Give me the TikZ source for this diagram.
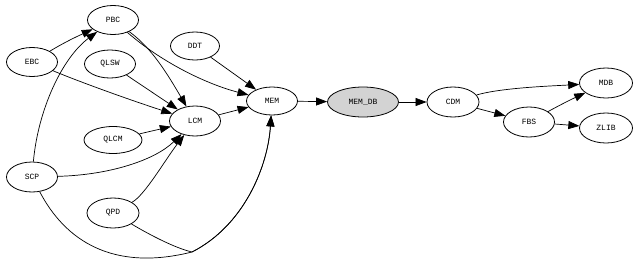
\documentclass[tikz,border=0pt]{standalone}
\usepackage{fontspec}
\setmonofont{Liberation Mono}
\usetikzlibrary{arrows.meta,shapes.geometric}
\definecolor{ink}{HTML}{000000}
\definecolor{dbfill}{HTML}{D3D3D3}

\begin{document}
\begin{tikzpicture}[
  x=1pt, y=-1pt, font=\ttfamily\fontsize{8}{9}\selectfont,
  mod/.style={ellipse, draw=ink, line width=0.8pt, fill=white, inner sep=0pt,
    minimum width=51pt, minimum height=29pt, text=ink},
  edge/.style={draw=ink, line width=0.7pt, -{Triangle[length=11pt,width=8pt]}}
]
\useasboundingbox (0,0) rectangle (637,276);

% modules
\node[mod] (PBC) at (113,20) {PBC};
\node[mod] (EBC) at (32,62) {EBC};
\node[mod, minimum width=49pt, minimum height=28pt] (DDT) at (195,46) {DDT};
\node[mod, minimum height=28pt] (QLSW) at (110,64) {QLSW};
\node[mod, minimum height=28pt] (MEM) at (272,101) {MEM};
\node[mod, minimum height=30pt] (LCM) at (195,121) {LCM};
\node[mod, minimum width=58pt, minimum height=27pt] (QLCM) at (113,140) {QLCM};
\node[mod, minimum height=30pt] (SCP) at (32,177) {SCP};
\node[mod, minimum width=52pt, minimum height=30pt] (QPD) at (113,213) {QPD};
\node[mod, fill=dbfill, minimum width=71pt, minimum height=30pt] (MEMDB) at (363,102) {MEM\_DB};
\node[mod, minimum width=52pt, minimum height=30pt] (CDM) at (453,102) {CDM};
\node[mod, minimum height=30pt] (FBS) at (529,122) {FBS};
\node[mod, minimum width=53pt, minimum height=30pt] (MDB) at (606,83) {MDB};
\node[mod, minimum width=53pt, minimum height=30pt] (ZLIB) at (606,128) {ZLIB};
\coordinate (join) at (192,252);

% straight dependencies
\foreach \a/\b in {QLSW/LCM, QLCM/LCM, DDT/MEM, LCM/MEM, MEM/MEMDB,
  MEMDB/CDM, CDM/FBS, FBS/ZLIB} {
  \draw[edge] (\a) -- (\b);
}

% curved dependencies
\draw[edge] (EBC) .. controls (65,42) and (78,36) .. (PBC);
\draw[edge] (SCP) .. controls (38,110) and (62,58) .. (PBC);
\draw[edge] (PBC) .. controls (152,48) and (168,75) .. (LCM);
\draw[edge] (PBC) .. controls (165,65) and (210,85) .. (MEM);
\draw[edge] (EBC) .. controls (80,82) and (130,100) .. (LCM);
\draw[edge] (SCP) .. controls (110,175) and (155,160) .. (LCM);
\draw[edge] (QPD) .. controls (145,195) and (165,160) .. (LCM);
\draw[edge] (SCP) .. controls (65,240) and (112,272) .. (join)
  .. controls (245,225) and (268,165) .. (MEM);
\draw[edge] (QPD) .. controls (150,235) and (175,248) .. (join)
  .. controls (245,225) and (268,165) .. (MEM);
\draw[edge] (CDM) .. controls (500,88) and (550,86) .. (MDB);
\draw[edge] (FBS) .. controls (560,105) and (570,100) .. (MDB);
\end{tikzpicture}
\end{document}
